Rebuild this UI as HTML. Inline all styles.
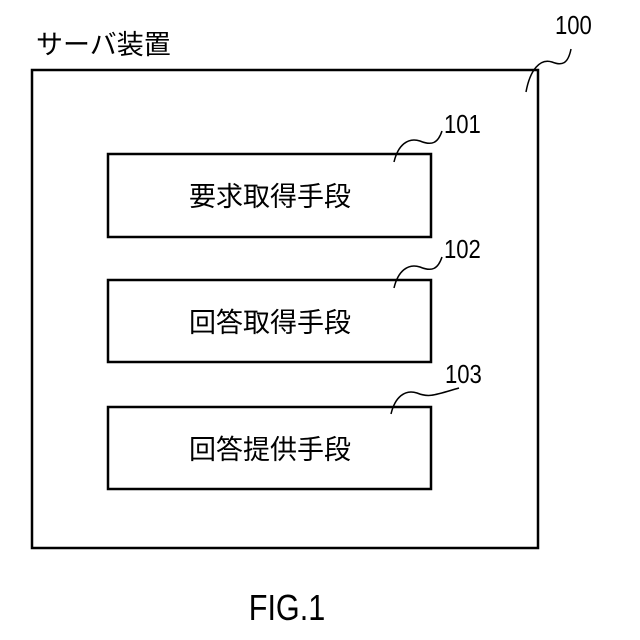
<!DOCTYPE html>
<html><head><meta charset="utf-8"><style>
html,body{margin:0;padding:0;background:#fff;}
svg{display:block}
text{font-family:"Liberation Sans","Noto Sans CJK JP",sans-serif;fill:#000}
</style></head><body>
<svg width="640" height="640" viewBox="0 0 640 640" xmlns="http://www.w3.org/2000/svg">
<g fill="none" stroke="#000" stroke-width="2.5">
<rect x="32" y="70" width="506" height="478"/>
<rect x="108" y="154" width="323" height="83"/>
<rect x="108" y="280" width="323" height="82"/>
<rect x="108" y="407" width="323" height="82"/>
</g>
<g fill="none" stroke="#000" stroke-width="1.5">
<path d="M526 92 C530 70 540 58 552 62 C562 66 568 64 571 49"/>
<path d="M394 162 C398 145 408 137 420 141 C432 146 438 143 442 131"/>
<path d="M394 288 C398 271 408 263 420 267 C432 272 438 269 442 257"/>
<path d="M391 414 C395 397 405 389 417 393 C429 398 435 395 459 388"/>
</g>
<text x="36" y="54" font-size="27">サーバ装置</text>
<g font-size="26">
<text x="555" y="34" transform="translate(555 0) scale(0.85 1) translate(-555 0)">100</text>
<text x="444" y="133" transform="translate(444 0) scale(0.85 1) translate(-444 0)">101</text>
<text x="444" y="258" transform="translate(444 0) scale(0.85 1) translate(-444 0)">102</text>
<text x="445" y="383" transform="translate(445 0) scale(0.85 1) translate(-445 0)">103</text>
</g>
<g font-size="27" text-anchor="middle">
<text x="270" y="206">要求取得手段</text>
<text x="270" y="332">回答取得手段</text>
<text x="270" y="459">回答提供手段</text>
</g>
<text x="287" y="620" font-size="36" text-anchor="middle" transform="translate(287 0) scale(0.85 1) translate(-287 0)">FIG.1</text>
</svg>
</body></html>
